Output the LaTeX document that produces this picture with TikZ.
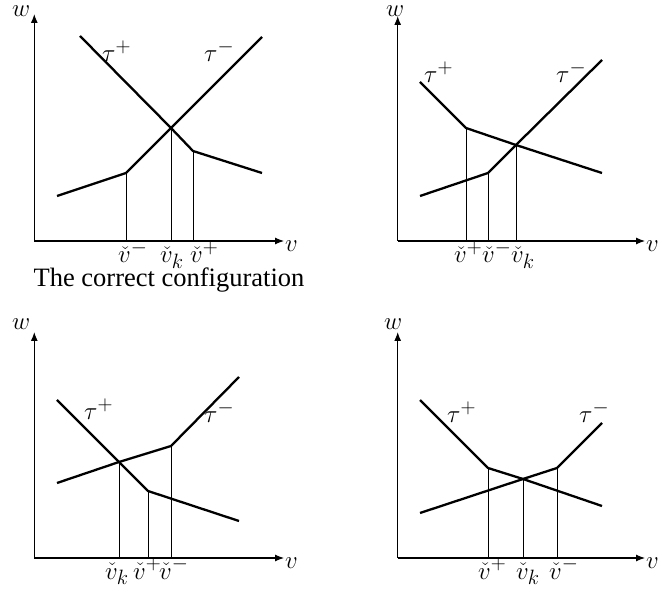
\documentclass[tikz,border=0pt]{standalone}
\usepackage[no-math]{fontspec}
\setmainfont{Liberation Serif}
\usetikzlibrary{arrows.meta}
\tikzset{
  curve/.style={line width=2.3pt, line join=round},
  axis/.style={line width=1.1pt, -{Latex[length=9pt,width=7pt]}},
  drop/.style={line width=0.8pt},
  lab/.style={inner sep=0pt, anchor=base west, font=\fontsize{28}{33}\selectfont},
}
\begin{document}
\begin{tikzpicture}[x=1pt,y=-1pt]
\useasboundingbox (0,0) rectangle (659,593);

% ---------------- Panel 1 (top-left) ----------------
\coordinate (o1) at (34.3,241);
\coordinate (y1) at (34.3,14);
\coordinate (x1) at (284,241);
\draw[axis] (o1) -- (y1);
\draw[axis] (o1) -- (x1);
\node[lab] (w1) at (12,17) {$w$};
\node[lab] (v1) at (285,252) {$v$};
\coordinate (a1) at (80,36);
\coordinate (k1) at (171,128);
\coordinate (p1) at (193,151);
\coordinate (b1) at (262,173);
\coordinate (c1) at (57,196);
\coordinate (m1) at (126,173);
\coordinate (d1) at (262,37);
\draw[curve] (a1) -- (k1) -- (p1) -- (b1);
\draw[curve] (c1) -- (m1) -- (k1) -- (d1);
\draw[drop] (m1) -- (m1 |- o1);
\draw[drop] (k1) -- (k1 |- o1);
\draw[drop] (p1) -- (p1 |- o1);
\node[lab] (tp1) at (102,62) {$\tau^+$};
\node[lab] (tm1) at (204,62) {$\tau^-$};
\node[lab] (lm1) at (118,263) {$\check{v}^-$};
\node[lab] (lk1) at (160,263) {$\check{v}_k$};
\node[lab] (lp1) at (190,263) {$\check{v}^+$};
\node[inner sep=0pt, anchor=base, font=\fontsize{26.5}{30}\selectfont] (cap) at (169,287) {The correct configuration};

% ---------------- Panel 2 (top-right) ----------------
\coordinate (o2) at (397.7,241);
\coordinate (y2) at (397.7,16);
\coordinate (x2) at (645,241);
\draw[axis] (o2) -- (y2);
\draw[axis] (o2) -- (x2);
\node[lab] (w2) at (386,17) {$w$};
\node[lab] (v2) at (646,252) {$v$};
\coordinate (a2) at (420,82);
\coordinate (p2) at (466,128);
\coordinate (k2) at (516,145);
\coordinate (b2) at (602,173);
\coordinate (c2) at (420,196);
\coordinate (m2) at (488,173);
\coordinate (d2) at (602,60);
\draw[curve] (a2) -- (p2) -- (k2) -- (b2);
\draw[curve] (c2) -- (m2) -- (k2) -- (d2);
\draw[drop] (p2) -- (p2 |- o2);
\draw[drop] (m2) -- (m2 |- o2);
\draw[drop] (k2) -- (k2 |- o2);
\node[lab] (tp2) at (424,83) {$\tau^+$};
\node[lab] (tm2) at (556,83) {$\tau^-$};
\node[lab] (lp2) at (454,263) {$\check{v}^+$};
\node[lab] (lm2) at (482,263) {$\check{v}^-$};
\node[lab] (lk2) at (511,263) {$\check{v}_k$};

% ---------------- Panel 3 (bottom-left) ----------------
\coordinate (o3) at (34.3,558);
\coordinate (y3) at (34.3,332);
\coordinate (x3) at (284,558);
\draw[axis] (o3) -- (y3);
\draw[axis] (o3) -- (x3);
\node[lab] (w3) at (12,330) {$w$};
\node[lab] (v3) at (285,568) {$v$};
\coordinate (a3) at (57,400);
\coordinate (k3) at (119,462);
\coordinate (p3) at (148,491);
\coordinate (b3) at (239,521);
\coordinate (c3) at (57,483);
\coordinate (m3) at (171,446);
\coordinate (d3) at (239,377);
\draw[curve] (a3) -- (k3) -- (p3) -- (b3);
\draw[curve] (c3) -- (k3) -- (m3) -- (d3);
\draw[drop] (k3) -- (k3 |- o3);
\draw[drop] (p3) -- (p3 |- o3);
\draw[drop] (m3) -- (m3 |- o3);
\node[lab] (tp3) at (84,420) {$\tau^+$};
\node[lab] (tm3) at (204,423) {$\tau^-$};
\node[lab] (lk3) at (105,579) {$\check{v}_k$};
\node[lab] (lp3) at (133,579) {$\check{v}^+$};
\node[lab] (lm3) at (159,579) {$\check{v}^-$};

% ---------------- Panel 4 (bottom-right) ----------------
\coordinate (o4) at (397.7,558);
\coordinate (y4) at (397.7,332);
\coordinate (x4) at (645,558);
\draw[axis] (o4) -- (y4);
\draw[axis] (o4) -- (x4);
\node[lab] (w4) at (384,330) {$w$};
\node[lab] (v4) at (646,568) {$v$};
\coordinate (a4) at (420,400);
\coordinate (p4) at (488,468);
\coordinate (k4) at (523,479);
\coordinate (b4) at (602,506);
\coordinate (c4) at (420,513);
\coordinate (m4) at (557,468);
\coordinate (d4) at (602,423);
\draw[curve] (a4) -- (p4) -- (k4) -- (b4);
\draw[curve] (c4) -- (k4) -- (m4) -- (d4);
\draw[drop] (p4) -- (p4 |- o4);
\draw[drop] (k4) -- (k4 |- o4);
\draw[drop] (m4) -- (m4 |- o4);
\node[lab] (tp4) at (447,423) {$\tau^+$};
\node[lab] (tm4) at (579,423) {$\tau^-$};
\node[lab] (lp4) at (478,579) {$\check{v}^+$};
\node[lab] (lk4) at (516,579) {$\check{v}_k$};
\node[lab] (lm4) at (549,579) {$\check{v}^-$};
\end{tikzpicture}
\end{document}
